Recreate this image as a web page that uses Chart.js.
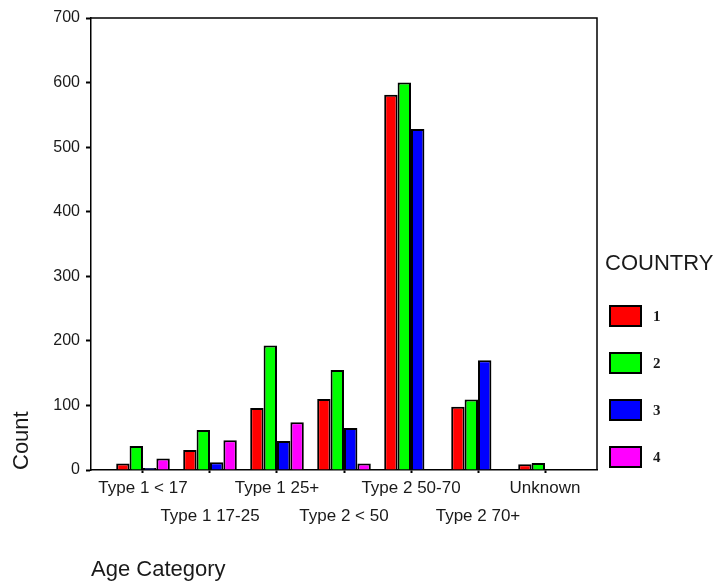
<!DOCTYPE html>
<html>
<head>
<meta charset="utf-8">
<script src="https://cdn.jsdelivr.net/npm/chart.js@4.4.1/dist/chart.umd.min.js"></script>
<style>
  html, body { margin: 0; padding: 0; background: #fff; }
  #wrap { width: 718px; height: 587px; }
</style>
</head>
<body>
<div id="wrap"><canvas id="grafico" width="718" height="587"></canvas></div>
<script>
// --- datos ---
const categorias = ["Type 1 < 17", "Type 1 17-25", "Type 1 25+", "Type 2 < 50", "Type 2 50-70", "Type 2 70+", "Unknown"];
const paises = ["1", "2", "3", "4"];
const colores = ["#ff0000", "#00ff00", "#0000ff", "#ff00ff"];
const pais1 = [10, 31, 96, 110, 581, 98, 9];
const pais2 = [37, 62, 193, 155, 600, 109, 11];
const pais3 = [3, 12, 45, 65, 528, 170, null];
const pais4 = [18, 46, 74, 10, null, null, null];
const ticksY = [0, 100, 200, 300, 400, 500, 600, 700];

const series = [pais1, pais2, pais3, pais4];
const FUENTE = '"Liberation Sans", Arial, sans-serif';

// marco superior y derecho del area del grafico
const marco = {
  id: "marco",
  afterDraw(chart) {
    const { ctx, chartArea: a } = chart;
    ctx.save();
    ctx.strokeStyle = "#000";
    ctx.lineWidth = 1.5;
    ctx.beginPath();
    ctx.moveTo(a.left, a.top);
    ctx.lineTo(a.right, a.top);
    ctx.lineTo(a.right, a.bottom);
    ctx.stroke();
    ctx.restore();
  }
};

// leyenda COUNTRY a la derecha
const leyendaPais = {
  id: "leyendaPais",
  afterDraw(chart) {
    const { ctx, chartArea: a } = chart;
    const x0 = a.right + 13;
    ctx.save();
    ctx.textAlign = "left";
    ctx.textBaseline = "middle";
    ctx.fillStyle = "#1a1a1a";
    ctx.font = "22px " + FUENTE;
    ctx.fillText("COUNTRY", a.right + 8, 264);
    chart.data.datasets.forEach((ds, i) => {
      const y = 306 + i * 47;
      ctx.fillStyle = ds.backgroundColor;
      ctx.fillRect(x0, y, 31, 20);
      ctx.strokeStyle = "#000";
      ctx.lineWidth = 2;
      ctx.strokeRect(x0, y, 31, 20);
      ctx.fillStyle = "#1a1a1a";
      ctx.font = 'bold 15px "Liberation Serif", "Times New Roman", serif';
      ctx.fillText(ds.label, x0 + 43, y + 11);
    });
    ctx.restore();
  }
};

const ctx = document.getElementById("grafico").getContext("2d");

new Chart(ctx, {
  type: "bar",
  data: {
    datasets: series.map((vals, i) => ({
      label: paises[i],
      data: vals.map((v, j) => ({ x: j, y: v })),
      backgroundColor: colores[i],
      borderColor: "#000",
      borderWidth: 2,
      borderSkipped: "start",
      categoryPercentage: 0.8,
      barPercentage: 1.0
    }))
  },
  options: {
    responsive: false,
    animation: false,
    layout: { padding: { left: 0, top: 18, right: 121, bottom: 0 } },
    plugins: {
      legend: { display: false },
      tooltip: { enabled: false }
    },
    scales: {
      x: {
        type: "linear",
        offset: false,
        min: -0.776,
        max: 6.776,
        afterBuildTicks: axis => { axis.ticks = categorias.map((_, i) => ({ value: i })); },
        afterFit: axis => { axis.height = 117; },
        ticks: {
          autoSkip: false,
          maxRotation: 0,
          padding: 1,
          color: "#1a1a1a",
          font: { family: FUENTE, size: 17, lineHeight: 1.65 },
          callback: v => {
            const i = Math.round(v);
            return i % 2 === 0 ? [categorias[i], ""] : ["", categorias[i]];
          }
        },
        grid: { display: true, drawOnChartArea: false, offset: false, tickLength: 3, color: "#000", tickWidth: 2 },
        border: { display: true, color: "#000", width: 1.5 },
        title: {
          display: true,
          text: "Age Category",
          align: "start",
          color: "#1a1a1a",
          font: { family: FUENTE, size: 22 },
          padding: { top: 0, bottom: 4 }
        }
      },
      y: {
        min: 0,
        max: 700,
        afterBuildTicks: axis => { axis.ticks = ticksY.map(v => ({ value: v })); },
        afterFit: axis => { axis.width = 91; },
        ticks: {
          padding: 6,
          color: "#1a1a1a",
          font: { family: FUENTE, size: 16 }
        },
        grid: { display: true, drawOnChartArea: false, tickLength: 5, color: "#000", tickWidth: 2 },
        border: { display: true, color: "#000", width: 1.5 },
        title: {
          display: true,
          text: "Count",
          align: "start",
          color: "#1a1a1a",
          font: { family: FUENTE, size: 22 },
          padding: { top: 9, bottom: 0 }
        }
      }
    }
  },
  plugins: [marco, leyendaPais]
});
</script>
</body>
</html>
